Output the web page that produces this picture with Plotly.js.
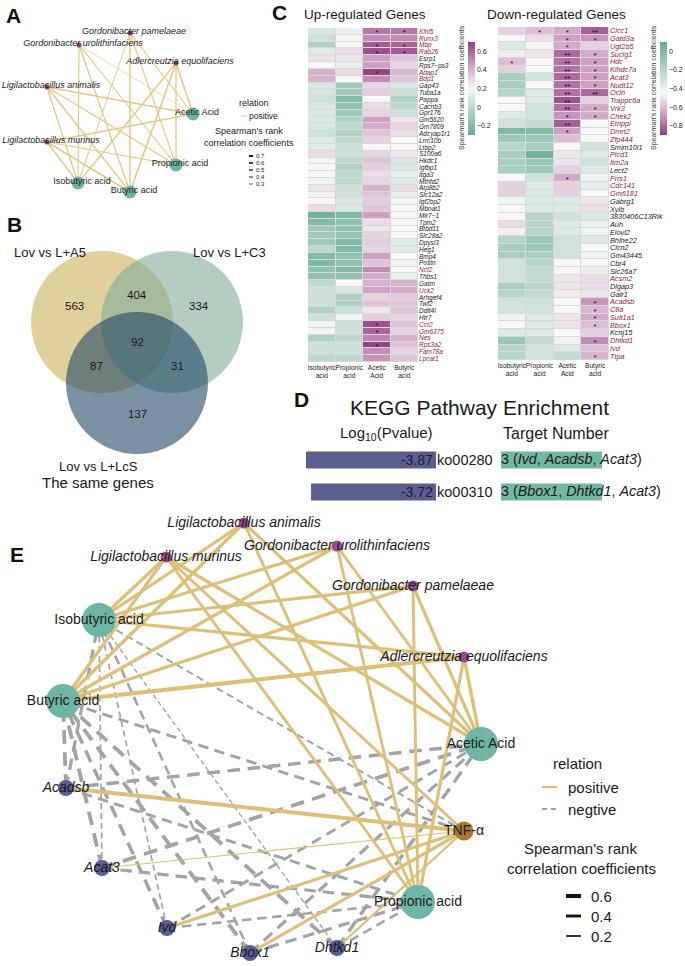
<!DOCTYPE html>
<html>
<head>
<meta charset="utf-8">
<script src="https://cdn.plot.ly/plotly-3.0.1.min.js"></script>
<style>html,body{margin:0;padding:0;background:#fff}#chart{width:685px;height:966px}</style>
</head>
<body>
<div id="chart"></div>
<script>
// ====================== DATA ======================
const acidCols = ["Isobutyric<br>acid","Propionic<br>acid","Acetic<br>Acid","Butyric<br>acid"];

// ---- Panel C : up-regulated genes ----
const upGenes = ["Klhl5","Runx3","Mbp","Rab26","Esrp1","Rps7−ps3","Adap1","Bdp1","Gap43","Tuba1a","Pappa","Cacnb3","Gpr176","Gm5620","Gm7809","Adcyap1r1","Lrrc10b","Ltbp2","S100a6","Hkdc1","Igfbp1","Itga3","Mthfd2","Atp8b2","Slc12a2","Igf2bp2","Mboat1","Mir7−1","Tpm2","Btbd11","Slc28a2","Dpysl3","Heg1","Bmp4","Postn","Ncf2","Thbs1","Gatm","Uck2","Arhgef4","Twf2","Ddit4l","Htr7","Ccr2","Gm6375","Nes","Rps3a2","Fam78a","Lpcat1"];
const upHighlighted = ["Klhl5","Runx3","Mbp","Rab26","Adap1","Bdp1","Ncf2","Uck2","Ccr2","Gm6375","Nes","Rps3a2","Fam78a","Lpcat1"];
const upIso = [0.10,0.05,-0.05,0.12,0.27,0.20,0.40,0.40,0.10,0.08,0.05,0.10,0.10,0.10,0.10,0.05,0.12,0.12,0.28,0.18,0.20,0.20,0.18,0.25,0.22,0.20,0.28,-0.25,-0.20,-0.10,-0.10,-0.10,0.00,-0.20,-0.20,-0.15,-0.15,0.00,0.05,0.05,0.05,-0.05,0.05,0.18,0.18,-0.05,0.05,0.05,0.00];
const upPro = [0.15,0.18,0.20,0.28,0.25,0.15,0.28,0.20,-0.10,-0.10,-0.20,-0.15,-0.12,-0.05,0.00,-0.05,0.00,0.05,0.05,0.00,-0.05,0.00,0.00,0.05,0.05,0.10,0.10,-0.20,-0.15,-0.15,-0.15,-0.20,-0.20,-0.15,-0.15,-0.20,-0.15,0.20,0.10,-0.05,-0.05,0.05,0.18,0.05,0.05,0.00,0.05,0.05,0.00];
const upAce = [0.55,0.50,0.62,0.65,0.45,0.45,0.68,0.50,0.30,0.32,0.20,0.28,0.30,0.45,0.42,0.35,0.30,0.20,0.30,0.35,0.32,0.28,0.30,0.40,0.35,0.32,0.35,0.45,0.28,0.25,0.30,0.32,0.30,0.45,0.35,0.50,0.42,0.40,0.45,0.30,0.35,0.25,0.32,0.65,0.60,0.52,0.68,0.50,0.48];
const upBut = [0.55,0.50,0.60,0.62,0.35,0.30,0.38,0.35,0.10,0.05,-0.05,0.00,0.05,0.25,0.30,0.28,0.20,0.20,0.25,0.10,0.10,0.15,0.12,0.28,0.15,0.18,0.20,0.20,0.20,0.20,0.20,0.12,0.12,0.20,0.22,0.20,0.15,0.40,0.42,0.33,0.35,0.35,0.30,0.35,0.30,0.40,0.35,0.30,0.35];
const upStarGene = ["Klhl5","Klhl5","Mbp","Mbp","Rab26","Rab26","Adap1","Ccr2","Gm6375","Rps3a2"];
const upStarCol  = [2,3,2,3,2,3,2,2,2,2];
const upStarMark = ["*","*","*","*","*","*","*","*","*","*"];

// ---- Panel C : down-regulated genes ----
const downGenes = ["Clcc1","Gatd3a","Ugt2b5","Suclg1","Hdc","Klhdc7a","Acat3","Nudt12","Ocln","Trappc6a","Vrk3","Chek2","Etnppl","Dmrt2","Zfp444","Smim10l1","Plcd1","Itm2a","Lect2","Frrs1","Cdc141","Gm6181","Gabrg1","Xylb","3830406C13Rik","Auh","Elovl2","Bhlhe22","Clcn2","Gm43445","Cbr4","Slc26a7","Acsm2","Dlgap3","Galr1","Acadsb","C8a","Sult1a1","Bbox1","Kcnj15","Dhtkd1","Ivd","Ttpa"];
const downPlain = ["Smim10l1","Lect2","Gabrg1","Xylb","3830406C13Rik","Auh","Elovl2","Bhlhe22","Clcn2","Gm43445","Cbr4","Slc26a7","Dlgap3","Galr1","Kcnj15"];
const downIso = [-0.55,-0.45,-0.35,-0.48,-0.60,-0.55,-0.15,-0.15,-0.20,-0.45,-0.45,-0.35,-0.30,0.00,-0.10,-0.20,-0.15,-0.15,-0.15,-0.45,-0.55,-0.55,-0.42,-0.45,-0.45,-0.52,-0.47,-0.20,-0.15,-0.15,-0.30,-0.30,-0.30,-0.15,-0.20,-0.30,-0.30,-0.42,-0.45,-0.35,-0.10,-0.20,-0.20];
const downPro = [-0.60,-0.52,-0.45,-0.50,-0.45,-0.45,-0.30,-0.45,-0.35,-0.35,-0.30,-0.30,-0.25,0.00,-0.10,-0.15,0.05,-0.10,-0.10,-0.30,-0.35,-0.35,-0.35,-0.35,-0.20,-0.20,-0.20,-0.10,-0.10,-0.15,-0.20,-0.25,-0.25,-0.20,-0.25,-0.30,-0.30,-0.35,-0.35,-0.35,-0.25,-0.30,-0.30];
const downAce = [-0.65,-0.68,-0.65,-0.80,-0.78,-0.78,-0.80,-0.78,-0.78,-0.85,-0.78,-0.70,-0.82,-0.68,-0.60,-0.45,-0.50,-0.50,-0.55,-0.65,-0.55,-0.55,-0.35,-0.35,-0.30,-0.35,-0.35,-0.30,-0.30,-0.30,-0.45,-0.45,-0.50,-0.50,-0.48,-0.45,-0.45,-0.50,-0.50,-0.45,-0.47,-0.35,-0.25];
const downBut = [-0.82,-0.70,-0.55,-0.65,-0.68,-0.68,-0.68,-0.68,-0.80,-0.55,-0.65,-0.65,-0.45,-0.45,-0.45,-0.30,-0.35,-0.30,-0.35,-0.42,-0.38,-0.45,-0.50,-0.52,-0.35,-0.40,-0.42,-0.35,-0.45,-0.42,-0.45,-0.40,-0.52,-0.52,-0.50,-0.70,-0.62,-0.65,-0.60,-0.55,-0.72,-0.60,-0.62];
const downStarGene = ["Clcc1","Clcc1","Clcc1","Gatd3a","Gatd3a","Ugt2b5","Suclg1","Suclg1","Hdc","Hdc","Hdc","Klhdc7a","Klhdc7a","Acat3","Acat3","Nudt12","Nudt12","Ocln","Ocln","Trappc6a","Vrk3","Vrk3","Chek2","Chek2","Etnppl","Dmrt2","Frrs1","Acadsb","C8a","Sult1a1","Bbox1","Dhtkd1","Ttpa"];
const downStarCol  = [1,2,3,2,3,2,2,3,0,2,3,2,3,2,3,2,3,2,3,2,2,3,2,3,2,2,2,3,3,3,3,3,3];
const downStarMark = ["*","*","**","*","*","*","**","*","*","**","*","**","*","**","*","**","*","**","**","**","**","*","*","*","**","*","*","*","*","*","*","*","*"];

// ---- Panel B : Venn ----
const vennSets = ["Lov vs L+A5","Lov vs L+C3","Lov vs L+LcS"];
const vennOnly = [563,334,137];
const vennPairSets = [[0,1],[0,2],[1,2]];
const vennPairCounts = [404,87,31];
const vennAll = 92;

// ---- Panel D : KEGG ----
const keggPathways = ["ko00280","ko00310"];
const keggLogP = [-3.87,-3.72];
const keggTargetN = [3,3];
const keggTargetGenes = [["Ivd","Acadsb","Acat3"],["Bbox1","Dhtkd1","Acat3"]];

// ---- Panel A : network (node layout + edges) ----
const aNodeId    = ["Gpam","Guro","Aequ","Lan","Lmu","Ace","Pro","Iso","But"];
const aNodeLabel = ["Gordonibacter pamelaeae","Gordonibacter urolithinfaciens","Adlercreutzia equolifaciens","Ligilactobacillus animalis","Ligilactobacillus murinus","Acetic Acid","Propionic acid","Isobutyric acid","Butyric acid"];
const aNodeType  = ["bac","bac","bac","bac","bac","acid","acid","acid","acid"];
const aLayoutX   = [130,79,176,47,47,193,176,78,130];
const aLayoutY   = [33,45,63,87,142,114,165,183,192];
const aEdgeFrom = ["Gpam","Gpam","Gpam","Gpam","Guro","Guro","Guro","Guro","Aequ","Aequ","Aequ","Aequ","Lan","Lan","Lan","Lan","Lmu","Lmu","Lmu","Lmu"];
const aEdgeTo   = ["Iso","But","Ace","Pro","Iso","But","Ace","Pro","Iso","But","Ace","Pro","Iso","But","Ace","Pro","Iso","But","Ace","Pro"];
const aEdgeR    = [0.40,0.55,0.45,0.45,0.45,0.50,0.30,0.45,0.50,0.60,0.60,0.50,0.50,0.50,0.55,0.45,0.50,0.55,0.50,0.45];

// ---- Panel E : network (node layout + edges) ----
const eNodeId    = ["Lan","Guro","Lmu","Gpam","Iso","Aequ","But","Ace","Acadsb","TNF","Acat3","Pro","Ivd","Bbox1","Dhtkd1"];
const eNodeLabel = ["Ligilactobacillus animalis","Gordonibacter urolithinfaciens","Ligilactobacillus murinus","Gordonibacter pamelaeae","Isobutyric acid","Adlercreutzia equolifaciens","Butyric acid","Acetic Acid","Acadsb","TNF-α","Acat3","Propionic acid","Ivd","Bbox1","Dhtkd1"];
const eNodeType  = ["bac","bac","bac","bac","acid","bac","acid","acid","gene","cyt","gene","acid","gene","gene","gene"];
const eLayoutX   = [244,337,166,413,99,464,63,481,66,464,102,418,167,250,337];
const eLayoutY   = [523,546,557,586,620,657,701,744,788,831,868,902,928,953,948];
const eEdgeFrom = ["Lan","Lan","Lan","Lan","Lmu","Lmu","Lmu","Lmu","Guro","Guro","Guro","Guro","Gpam","Gpam","Gpam","Gpam","Aequ","Aequ","Aequ","Aequ",
  "Acadsb","Acat3","Ivd","Bbox1","Dhtkd1","Lmu",
  "Acadsb","Acadsb","Acadsb","Acadsb","Acat3","Acat3","Acat3","Acat3","Ivd","Ivd","Ivd","Ivd","Bbox1","Bbox1","Bbox1","Bbox1","Dhtkd1","Dhtkd1","Dhtkd1","Dhtkd1","TNF","TNF"];
const eEdgeTo = ["Iso","But","Ace","Pro","Iso","But","Ace","Pro","Iso","But","Ace","Pro","Iso","But","Ace","Pro","Iso","But","Ace","Pro",
  "TNF","TNF","TNF","TNF","TNF","TNF",
  "Iso","But","Ace","Pro","Iso","But","Ace","Pro","Iso","But","Ace","Pro","Iso","But","Ace","Pro","Iso","But","Ace","Pro","But","Iso"];
const eEdgeR = [0.45,0.45,0.45,0.40,0.45,0.45,0.45,0.40,0.45,0.45,0.40,0.40,0.45,0.45,0.45,0.40,0.45,0.60,0.50,0.45,
  0.60,0.12,0.45,0.45,0.30,0.40,
  -0.45,-0.55,-0.50,-0.40,-0.20,-0.55,-0.55,-0.45,-0.20,-0.50,-0.40,-0.35,-0.35,-0.55,-0.45,-0.45,-0.15,-0.55,-0.50,-0.35,-0.40,-0.25];

const aLegendR = [0.7,0.6,0.5,0.4,0.3];
const eLegendR = [0.6,0.4,0.2];

// ====================== DRAWING ======================
const W = 685, H = 966;
const FONT = "Liberation Sans, Arial, Helvetica, sans-serif";
const PX = v => v / W, PY = v => 1 - v / H;
const DX = (a, b) => [a / W, b / W], DY = (t, b) => [1 - b / H, 1 - t / H];
const traces = [], shapes = [], annotations = [];
const layout = {
  width: W, height: H, margin: {l:0, r:0, t:0, b:0},
  paper_bgcolor: "#ffffff", plot_bgcolor: "rgba(0,0,0,0)",
  showlegend: false, font: {family: FONT, color: "#1a1a1a"}, hovermode: false
};
const hiddenAxis = (domain, range, anchor) => ({domain, range, anchor, visible:false, fixedrange:true, showgrid:false, zeroline:false});
function txt(x, y, text, size, opt) {
  annotations.push(Object.assign({xref:"paper", yref:"paper", x:PX(x), y:PY(y), text, showarrow:false,
    xanchor:"center", yanchor:"middle", borderpad:0,
    font:{size, color:"#1a1a1a", family:FONT}}, opt || {}));
}

// ---- Panel letters ----
[["A",13,16],["B",14,224],["C",279,12],["D",301,400],["E",17,554]].forEach(p =>
  txt(p[1], p[2], "<b>" + p[0] + "</b>", 21, {font:{size:21, color:"#111", family:FONT}}));

// ---- Heatmaps ----
const RED = "#8a2442";
function heat(idx, genes, labelColor, cols, starGene, starCol, starMark, zmin, zmax, cscale, xdom, ydom, cbX, cbTicks, cbTitleX, geneFont) {
  const xa = "x" + idx, ya = "y" + idx;
  const yi = genes.map((g, i) => i);
  const z = genes.map((g, i) => cols.map(c => c[i]));
  shapes.push({type:"rect", xref:"paper", yref:"paper", x0:xdom[0], x1:xdom[1], y0:ydom[0], y1:ydom[1],
    fillcolor:"#d9d9d9", line:{width:0}, layer:"below"});
  traces.push({type:"heatmap", x:[0,1,2,3], y:yi, z, zmin, zmax, colorscale:cscale, xgap:1, ygap:1,
    xaxis:xa, yaxis:ya, hoverinfo:"skip",
    colorbar:{x:PX(cbX), xanchor:"left", xpad:0, y:PY(42), yanchor:"top", ypad:0, len:93/H, lenmode:"fraction",
      thickness:7, outlinewidth:0, ticks:"", tickmode:"array", tickvals:cbTicks, tickfont:{size:7, color:"#222"}}});
  traces.push({type:"scatter", mode:"text", x:starCol, y:starGene.map(g => genes.indexOf(g) + 0.25), text:starMark,
    textposition:"middle center", textfont:{size:8, color:"#111"}, xaxis:xa, yaxis:ya, cliponaxis:false, hoverinfo:"skip"});
  layout["xaxis" + idx] = {domain:xdom, range:[-0.5,3.5], anchor:ya, tickmode:"array", tickvals:[0,1,2,3], ticktext:acidCols,
    tickangle:0, tickfont:{size:6.6, color:"#1a1a1a"}, showgrid:false, zeroline:false, showline:false, ticks:"", fixedrange:true};
  layout["yaxis" + idx] = {domain:ydom, range:[genes.length - 0.5, -0.5], anchor:xa, side:"right", tickmode:"array", tickvals:yi,
    ticktext:genes.map(g => '<span style="color:' + labelColor(g) + '"><i>' + g + '</i></span>'),
    tickfont:{size:geneFont}, showgrid:false, zeroline:false, showline:false, ticks:"", fixedrange:true};
  txt(cbTitleX, 88, "Spearman's rank correlation coefficients", 7, {textangle:-90, font:{size:7, color:"#333", family:FONT}});
}
heat(2, upGenes, g => upHighlighted.includes(g) ? RED : "#1a1a1a", [upIso, upPro, upAce, upBut],
  upStarGene, upStarCol, upStarMark, -0.3, 0.7,
  [[0,"#64aa95"],[0.25,"#add2c5"],[0.5,"#f7f7f7"],[0.75,"#d0a0c4"],[1,"#913c7e"]],
  DX(308,418), DY(28,362), 468, [-0.2,0,0.2,0.4,0.6], 462, 6.5);
heat(3, downGenes, g => downPlain.includes(g) ? "#1a1a1a" : RED, [downIso, downPro, downAce, downBut],
  downStarGene, downStarCol, downStarMark, -0.9, 0.1,
  [[0,"#913c7e"],[0.225,"#d0a0c4"],[0.45,"#f7f7f7"],[0.725,"#add2c5"],[1,"#64aa95"]],
  DX(498,609), DY(27,360), 660, [-0.8,-0.6,-0.4,-0.2,0], 654, 7.3);
txt(365, 15, "Up-regulated Genes", 13.5);
txt(556, 15, "Down-regulated Genes", 13.5);

// ---- Venn (panel B) ----
const vcx = [102,172,137], vcy = [322,322,383], vr = 71;
const vennFill = ["rgba(198,172,78,0.56)","rgba(128,174,152,0.6)","rgba(34,72,102,0.6)"];
layout.xaxis4 = hiddenAxis(DX(0,300), [0,300], "y4");
layout.yaxis4 = hiddenAxis(DY(190,490), [490,190], "x4");
vennSets.forEach((s, i) => shapes.push({type:"circle", xref:"x4", yref:"y4",
  x0:vcx[i]-vr, x1:vcx[i]+vr, y0:vcy[i]-vr, y1:vcy[i]+vr, fillcolor:vennFill[i], line:{width:0}}));
const vAnn = (x, y, t, s) => annotations.push({xref:"x4", yref:"y4", x, y, text:t, showarrow:false, xanchor:"center", yanchor:"middle",
  font:{size:s, color:"#1a1a1a", family:FONT}});
vennOnly.forEach((n, i) => {
  const o = [0,1,2].filter(k => k !== i);
  const mx = (vcx[o[0]] + vcx[o[1]]) / 2, my = (vcy[o[0]] + vcy[o[1]]) / 2;
  const dx = vcx[i] - mx, dy = vcy[i] - my, L = Math.hypot(dx, dy);
  vAnn(vcx[i] + dx / L * 0.44 * vr, vcy[i] + dy / L * 0.44 * vr, String(n), 11.5);
});
vennPairSets.forEach((p, j) => {
  const k = [0,1,2].find(q => !p.includes(q));
  const mx = (vcx[p[0]] + vcx[p[1]]) / 2, my = (vcy[p[0]] + vcy[p[1]]) / 2;
  const dx = mx - vcx[k], dy = my - vcy[k], L = Math.hypot(dx, dy);
  vAnn(mx + dx / L * 0.38 * vr, my + dy / L * 0.38 * vr, String(vennPairCounts[j]), 11.5);
});
vAnn((vcx[0]+vcx[1]+vcx[2])/3, (vcy[0]+vcy[1]+vcy[2])/3, String(vennAll), 11.5);
vAnn(50, 252, vennSets[0], 13);
vAnn(229, 252, vennSets[1], 13);
vAnn(98, 466, vennSets[2], 13);
vAnn(98, 482, "The same genes", 15);

// ---- KEGG bars (panel D) ----
layout.xaxis5 = hiddenAxis(DX(305,436), [-3.9,0], "y5");
layout.yaxis5 = {domain:DY(444,508), range:[1.5,-0.5], anchor:"x5", side:"right", tickmode:"array", tickvals:[0,1],
  ticktext:keggPathways, tickfont:{size:14.5, color:"#1a1a1a"}, showgrid:false, zeroline:false, ticks:"", fixedrange:true};
layout.xaxis6 = hiddenAxis(DX(501,602), [0,3], "y6");
layout.yaxis6 = hiddenAxis(DY(444,508), [1.5,-0.5], "x6");
traces.push({type:"bar", orientation:"h", x:keggLogP, y:[0,1], width:0.53, marker:{color:"#5b5e8e"},
  text:keggLogP.map(v => v.toFixed(2)), textposition:"inside", insidetextanchor:"start", constraintext:"none",
  textfont:{size:14, color:"#1c1c38"}, xaxis:"x5", yaxis:"y5", hoverinfo:"skip"});
traces.push({type:"bar", orientation:"h", x:keggTargetN, y:[0,1], width:0.53, marker:{color:"#72b8a4"},
  xaxis:"x6", yaxis:"y6", hoverinfo:"skip"});
traces.push({type:"scatter", mode:"text", x:[0,0], y:[0,1], xaxis:"x6", yaxis:"y6", cliponaxis:false,
  text:keggTargetN.map((n, i) => n + " (" + keggTargetGenes[i].map(g => "<i>" + g + "</i>").join(", ") + ")"),
  textposition:"middle right", textfont:{size:14.3, color:"#1a1a1a"}, hoverinfo:"skip"});
txt(479, 407, "KEGG Pathway Enrichment", 21);
txt(386, 433, "Log<sub>10</sub>(Pvalue)", 15);
txt(556, 433, "Target Number", 16);

// ---- Networks ----
const GOLD_A = "#e2c887", GOLD_E = "#dcbf78", GREY = "#a3a3a3";
const aWidth = r => Math.max(0.5, 3.2 * Math.abs(r) - 0.3);
const eWidth = r => 0.5 + 6 * Math.abs(r);
function network(xa, ya, ids, labels, types, lx, ly, from, to, rr, widthFn, gold, style, labelDx, labelDy) {
  const order = rr.map((r, i) => i).sort((a, b) => (rr[a] < 0 ? 0 : 1) - (rr[b] < 0 ? 0 : 1));
  order.forEach(i => {
    const a = ids.indexOf(from[i]), b = ids.indexOf(to[i]);
    const w = widthFn(rr[i]);
    const neg = rr[i] < 0;
    traces.push({type:"scatter", mode:"lines", x:[lx[a], lx[b]], y:[ly[a], ly[b]], xaxis:xa, yaxis:ya, cliponaxis:false,
      line:{color:neg ? GREY : gold, width:w, dash:neg ? (3.6*w).toFixed(1) + "px," + (2.2*w).toFixed(1) + "px" : "solid"},
      hoverinfo:"skip"});
  });
  Object.keys(style).forEach(t => {
    const idx = types.map((v, i) => v === t ? i : -1).filter(i => i >= 0);
    traces.push({type:"scatter", mode:"markers", x:idx.map(i => lx[i]), y:idx.map(i => ly[i]), xaxis:xa, yaxis:ya, cliponaxis:false,
      marker:{size:style[t].size, color:style[t].color, line:{width:0}}, hoverinfo:"skip"});
  });
  Object.keys(style).forEach(t => {
    const idx = types.map((v, i) => v === t ? i : -1).filter(i => i >= 0);
    traces.push({type:"scatter", mode:"text", x:idx.map(i => lx[i] + labelDx), y:idx.map(i => ly[i] + labelDy), xaxis:xa, yaxis:ya, cliponaxis:false,
      text:idx.map(i => style[t].italic ? "<i>" + labels[i] + "</i>" : labels[i]), textposition:"middle center",
      textfont:{size:style[t].font, color:"#1a1a1a", family:FONT}, hoverinfo:"skip"});
  });
}
layout.xaxis = hiddenAxis(DX(0,300), [0,300], "y");
layout.yaxis = hiddenAxis(DY(0,200), [200,0], "x");
network("x", "y", aNodeId, aNodeLabel, aNodeType, aLayoutX, aLayoutY, aEdgeFrom, aEdgeTo, aEdgeR, aWidth, GOLD_A,
  {bac:{size:5, color:"#8e3a80", italic:true, font:9}, acid:{size:13, color:"#6db4a4", italic:false, font:9}}, 4, -1);
layout.xaxis7 = hiddenAxis(DX(0,685), [0,685], "y7");
layout.yaxis7 = hiddenAxis(DY(500,966), [966,500], "x7");
network("x7", "y7", eNodeId, eNodeLabel, eNodeType, eLayoutX, eLayoutY, eEdgeFrom, eEdgeTo, eEdgeR, eWidth, GOLD_E,
  {bac:{size:11, color:"#9a4b92", italic:true, font:14}, acid:{size:34, color:"#6fb5a6", italic:false, font:14},
   gene:{size:16, color:"#5a5e94", italic:true, font:14}, cyt:{size:19, color:"#b0782d", italic:false, font:14}}, 0, 0);

// ---- Legend A ----
const hl = (x0, x1, y, w, color, dash) => shapes.push({type:"line", xref:"paper", yref:"paper", x0:PX(x0), x1:PX(x1), y0:PY(y), y1:PY(y),
  line:{color, width:w, dash:dash || "solid"}});
txt(254, 103, "relation", 9);
hl(241, 246, 116, 1, GOLD_A);
txt(248, 116, "positive", 8.5, {xanchor:"left"});
txt(249, 131, "Spearman's rank", 9);
txt(249, 143, "correlation coefficients", 9);
aLegendR.forEach((r, k) => { hl(249, 253, 156 + 7 * k, aWidth(r), "#111"); txt(255, 156 + 7 * k, r.toFixed(1), 6, {xanchor:"left"}); });

// ---- Legend E ----
txt(577, 763, "relation", 15);
hl(542, 557, 787, 2, GOLD_E);
txt(567, 787, "positive", 15, {xanchor:"left"});
hl(542, 557, 809, 2, GREY, "5px,4px");
txt(567, 809, "negtive", 15, {xanchor:"left"});
txt(580, 848, "Spearman's rank", 15);
txt(581, 868, "correlation coefficients", 15);
eLegendR.forEach((r, k) => { hl(566, 581, 896 + 20 * k, eWidth(r), "#111"); txt(590, 896 + 20 * k, r.toFixed(1), 15, {xanchor:"left"}); });

layout.shapes = shapes;
layout.annotations = annotations;
Plotly.newPlot("chart", traces, layout, {staticPlot:true, displayModeBar:false});
</script>
</body>
</html>
